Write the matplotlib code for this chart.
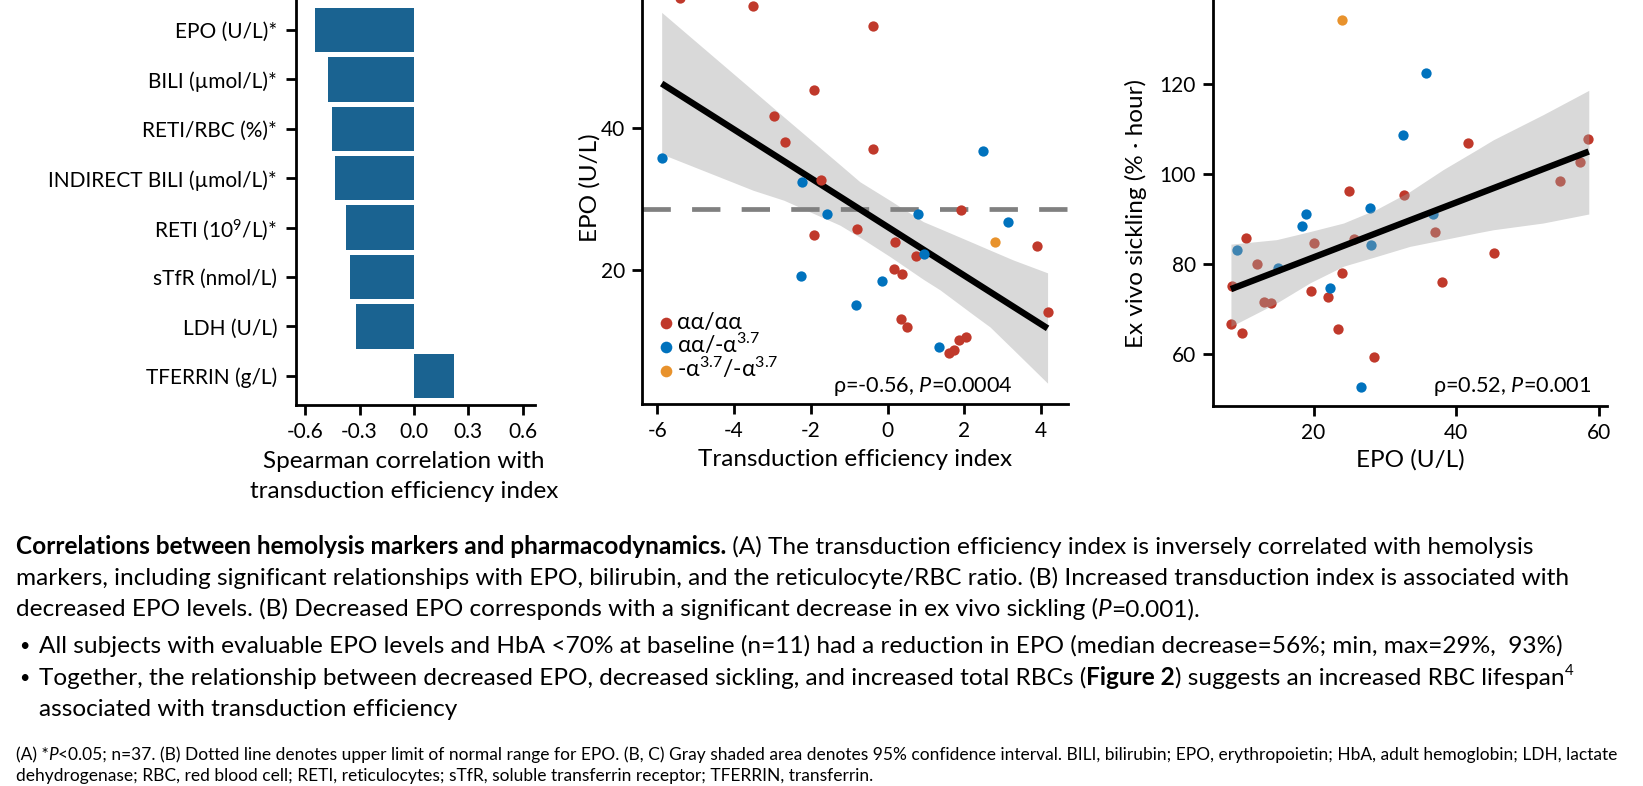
import matplotlib
matplotlib.use("Agg")
import matplotlib.pyplot as plt
from matplotlib.transforms import IdentityTransform
import numpy as np

W, H = 1643, 786

plt.rcParams['font.family'] = ['Lato', 'DejaVu Sans']
plt.rcParams['mathtext.fontset'] = 'custom'
plt.rcParams['mathtext.rm'] = 'Lato'
plt.rcParams['mathtext.it'] = 'Lato:italic'
plt.rcParams['mathtext.bf'] = 'Lato:bold'
plt.rcParams['axes.unicode_minus'] = False

# ---------------- data ----------------
# (A) Spearman correlation with transduction efficiency index
markers = ["EPO (U/L)*", "BILI (µmol/L)*", "RETI/RBC (%)*", "INDIRECT BILI (µmol/L)*",
           "RETI (10$^9$/L)*", "sTfR (nmol/L)", "LDH (U/L)", "TFERRIN (g/L)"]
rho = [-0.546, -0.475, -0.453, -0.437, -0.376, -0.350, -0.321, 0.221]
a_ticks = [-0.6, -0.3, 0.0, 0.3, 0.6]
a_ticklabels = ["-0.6", "-0.3", "0.0", "0.3", "0.6"]

# (B) EPO vs transduction efficiency index
b_red_x = [-5.41, -3.50, -0.37, -1.91, -2.96, -2.68, -0.37, -1.73, 1.92, -0.80, -1.91, 0.20,
           0.74, 0.18, 0.37, 3.89, 4.17, 0.36, 0.50, 2.04, 1.85, 1.74, 1.60]
b_red_y = [58.2, 57.1, 54.3, 45.3, 41.7, 38.0, 37.0, 32.7, 28.5, 25.8, 24.9, 24.0,
           22.0, 20.1, 19.5, 23.4, 14.1, 13.1, 12.0, 10.6, 10.1, 8.8, 8.4]
b_blue_x = [-5.885, -2.23, -1.58, 2.48, 0.79, 3.15, 0.95, -2.25, -0.14, -0.81, 1.33]
b_blue_y = [35.8, 32.4, 27.9, 36.7, 27.9, 26.7, 22.3, 19.1, 18.4, 15.1, 9.2]
b_orange_x = [2.80]
b_orange_y = [24.0]
b_fit_x = [-5.885, 4.17]
b_fit_y = [46.2, 11.8]
b_band_x = [-5.885, -3.5, -2.7, -1.24, -0.72, 0.06, 0.93, 1.37, 2.24, 2.67, 3.28, 4.17]
b_band_hi = [56.2, 45.2, 41.5, 34.8, 32.4, 29.8, 26.8, 25.8, 23.8, 22.8, 21.4, 19.6]
b_band_lo = [36.3, 31.2, 29.8, 26.3, 24.6, 21.9, 18.7, 17.2, 13.7, 12.0, 8.8, 4.1]
epo_upper_normal = 28.6
b_xticks = [-6, -4, -2, 0, 2, 4]
b_yticks = [20, 40]

# (C) ex vivo sickling vs EPO
c_red_x = [58.5, 41.7, 57.3, 54.5, 24.9, 32.7, 37.0, 10.5, 25.7, 20.0, 45.3, 12.0,
           24.0, 38.0, 8.6, 19.6, 22.0, 13.0, 14.0, 8.4, 23.4, 10.0, 28.5]
c_red_y = [107.8, 106.8, 102.7, 98.4, 96.2, 95.3, 87.0, 85.8, 85.6, 84.6, 82.4, 80.0,
           77.9, 75.9, 75.2, 73.9, 72.6, 71.6, 71.3, 66.7, 65.6, 64.6, 59.3]
c_blue_x = [35.8, 32.5, 27.9, 19.0, 18.3, 9.2, 28.0, 36.8, 15.0, 22.3, 26.7]
c_blue_y = [122.5, 108.7, 92.4, 91.2, 88.5, 83.0, 84.1, 91.1, 79.1, 74.7, 52.6]
c_orange_x = [24.0]
c_orange_y = [134.3]
c_fit_x = [8.4, 58.6]
c_fit_y = [74.4, 105.0]
c_band_x = [8.4, 14.8, 19.5, 24.2, 28.9, 33.5, 38.2, 42.9, 45.2, 52.2, 58.6]
c_band_hi = [84.4, 85.4, 87.2, 89.1, 92.2, 96.1, 101.0, 105.4, 107.6, 113.2, 118.6]
c_band_lo = [66.1, 71.3, 75.8, 79.5, 81.7, 83.9, 85.4, 86.9, 87.6, 89.1, 91.1]
c_xticks = [20, 40, 60]
c_yticks = [60, 80, 100, 120]

genotypes = ["αα/αα", "αα/-α$^{3.7}$", "-α$^{3.7}$/-α$^{3.7}$"]

# colours
bar_color = "#1a6391"
red = "#c0392b"
blue = "#0072bd"
orange = "#e8922c"

fig = plt.figure(figsize=(W / 100, H / 100), dpi=100)
px = IdentityTransform()
label_size = 17.5


def add_axes_px(left, right, top, bottom):
    return fig.add_axes([left / W, 1 - bottom / H, (right - left) / W, (bottom - top) / H])


def style(ax):
    for s in ["top", "right"]:
        ax.spines[s].set_visible(False)
    for s in ["left", "bottom"]:
        ax.spines[s].set_linewidth(2)
    ax.tick_params(width=2, length=7.2, labelsize=15, pad=5, colors="black")


# ---------------- panel A ----------------
axA = add_axes_px(295.5, 535, 0, 405)
style(axA)
ypos = np.arange(len(markers))
axA.barh(ypos, rho, height=0.9, color=bar_color)
axA.set_ylim(7.59, -0.607)
axA.set_xlim(-0.653, 0.667)
axA.set_yticks(ypos, markers)
axA.set_xticks(a_ticks, a_ticklabels)
axA.tick_params(axis="y", pad=6)
axA.set_xlabel("Spearman correlation with\ntransduction efficiency index", fontsize=label_size,
               linespacing=1.5)
axA.xaxis.set_label_coords(404, H - 451, transform=px)

# ---------------- panel B ----------------
axB = add_axes_px(642.3, 1068.3, 0, 404.3)
style(axB)
axB.fill_between(b_band_x, b_band_lo, b_band_hi, color="#d9d9d9", lw=0, zorder=1)
axB.axhline(epo_upper_normal, color="#808080", lw=3.4, dashes=(6, 4.5), zorder=2)
axB.plot(b_fit_x, b_fit_y, color="black", lw=4.6, solid_capstyle="butt", zorder=3)
axB.scatter(b_red_x, b_red_y, s=55, color=red, lw=0, zorder=4)
axB.scatter(b_blue_x, b_blue_y, s=55, color=blue, lw=0, zorder=4)
axB.scatter(b_orange_x, b_orange_y, s=55, color=orange, lw=0, zorder=4)
axB.set_xlim(-6.39, 4.71)
axB.set_ylim(1.13, 57.94)
axB.set_xticks(b_xticks)
axB.set_yticks(b_yticks)
axB.set_xlabel("Transduction efficiency index", fontsize=label_size)
axB.xaxis.set_label_coords(855, H - 449, transform=px)
axB.set_ylabel("EPO (U/L)", fontsize=label_size)
axB.yaxis.set_label_coords(601, H - 188, transform=px)
axB.text(1012.7, H - 392, "ρ=-0.56, $P$=0.0004", transform=px, ha="right", va="baseline", fontsize=15.6)

# genotype key, drawn row by row
for label, color, base in zip(genotypes, (red, blue, orange), (328.5, 353, 377)):
    axB.plot([666], [H - base + 6], transform=px, ls="", marker="o", ms=8.4, mew=0, color=color,
             clip_on=False)
    axB.text(677, H - base, label, transform=px, ha="left", va="baseline", fontsize=16.5)

# ---------------- panel C ----------------
axC = add_axes_px(1212.9, 1607.3, 0, 406)
style(axC)
axC.scatter(c_red_x, c_red_y, s=55, color=red, lw=0, zorder=2)
axC.scatter(c_blue_x, c_blue_y, s=55, color=blue, lw=0, zorder=2)
axC.scatter(c_orange_x, c_orange_y, s=55, color=orange, lw=0, zorder=2)
axC.fill_between(c_band_x, c_band_lo, c_band_hi, color="#a0a0a0", alpha=0.4, lw=0, zorder=3)
axC.plot(c_fit_x, c_fit_y, color="black", lw=4.6, solid_capstyle="butt", zorder=4)
axC.set_xlim(5.87, 61.2)
axC.set_ylim(48.4, 138.7)
axC.set_xticks(c_xticks)
axC.set_yticks(c_yticks)
axC.set_xlabel("EPO (U/L)", fontsize=label_size)
axC.xaxis.set_label_coords(1410, H - 449, transform=px)
axC.set_ylabel("Ex vivo sickling (% · hour)", fontsize=label_size)
axC.yaxis.set_label_coords(1147, H - 213, transform=px)
axC.text(1591, H - 392, "ρ=0.52, $P$=0.001", transform=px, ha="right", va="baseline", fontsize=15.6)

# ---------------- caption text ----------------
renderer = fig.canvas.get_renderer()


def rich_line(x, y, runs, size):
    # runs: (text, weight, style, superscript)
    for text, weight, fstyle, sup in runs:
        fs = size * 0.62 if sup else size
        dy = size * 0.55 if sup else 0
        t = fig.text(x, H - y + dy, text, transform=px, fontsize=fs, fontweight=weight,
                     fontstyle=fstyle, ha="left", va="baseline")
        x = t.get_window_extent(renderer).x1


N = "normal"
main_size = 17.6
rich_line(15.7, 554, [("Correlations between hemolysis markers and pharmacodynamics.", "bold", N, False),
                      (" (A) The transduction efficiency index is inversely correlated with hemolysis", N, N, False)],
          main_size)
rich_line(15.7, 585, [("markers, including significant relationships with EPO, bilirubin, and the "
                       "reticulocyte/RBC ratio. (B) Increased transduction index is associated with", N, N, False)],
          main_size)
rich_line(15.7, 616.5, [("decreased EPO levels. (B) Decreased EPO corresponds with a significant decrease "
                         "in ex vivo sickling (", N, N, False),
                        ("P", N, "italic", False), ("=0.001).", N, N, False)], main_size)
fig.text(19, H - 651, "•", transform=px, fontsize=13, va="baseline")
rich_line(39, 653, [("All subjects with evaluable EPO levels and HbA <70% at baseline (n=11) had a reduction "
                     "in EPO (median decrease=56%; min, max=29%,  93%)", N, N, False)], main_size)
fig.text(19, H - 683, "•", transform=px, fontsize=13, va="baseline")
rich_line(39, 685, [("Together, the relationship between decreased EPO, decreased sickling, and increased "
                     "total RBCs (", N, N, False),
                    ("Figure 2", "bold", N, False),
                    (") suggests an increased RBC lifespan", N, N, False),
                    ("4", N, N, True)], main_size)
rich_line(39, 716.5, [("associated with transduction efficiency", N, N, False)], main_size)

foot_size = 12.5
rich_line(15.7, 760, [("(A) *", N, N, False), ("P", N, "italic", False),
                      ("<0.05; n=37. (B) Dotted line denotes upper limit of normal range for EPO. (B, C) Gray "
                       "shaded area denotes 95% confidence interval. BILI, bilirubin; EPO, erythropoietin; "
                       "HbA, adult hemoglobin; LDH, lactate", N, N, False)], foot_size)
rich_line(15.7, 781, [("dehydrogenase; RBC, red blood cell; RETI, reticulocytes; sTfR, soluble transferrin "
                       "receptor; TFERRIN, transferrin.", N, N, False)], foot_size)

fig.savefig("out.png", dpi=100, facecolor="white")
